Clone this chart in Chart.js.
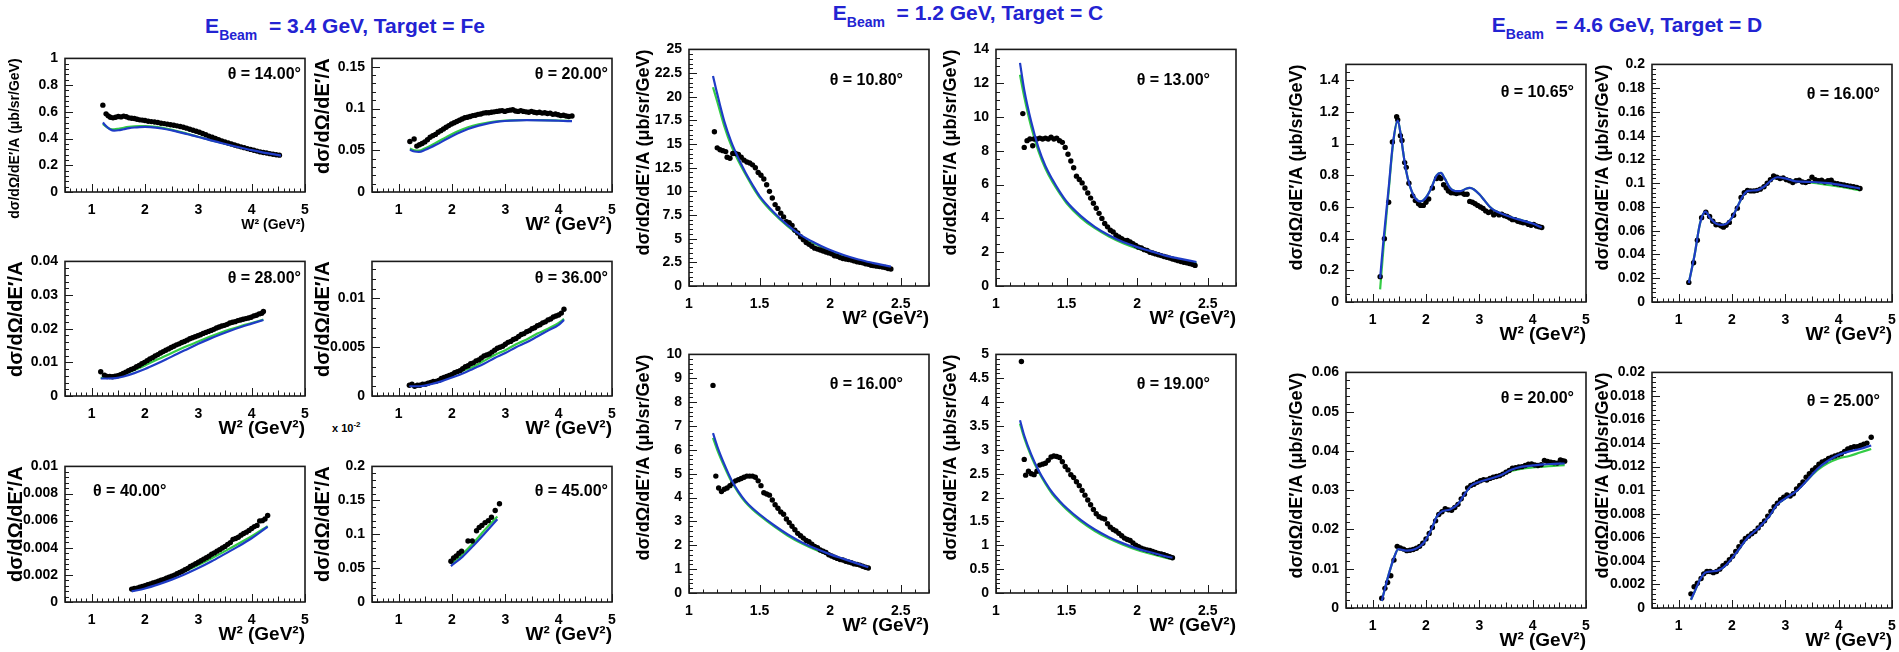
<!DOCTYPE html>
<html>
<head>
<meta charset="utf-8">
<script src="https://cdn.jsdelivr.net/npm/chart.js@4.4.1/dist/chart.umd.min.js"></script>
<style>
  html, body { margin: 0; padding: 0; background: #fff; }
  #page { position: relative; width: 1899px; height: 652px; overflow: hidden; background: #fff;
          font-family: 'Liberation Sans', Arial, Helvetica, sans-serif; }
  #page canvas { position: absolute; }
  .ptitle { position: absolute; color: #2323d2; font-weight: bold; font-size: 21px; line-height: 1;
            white-space: nowrap; transform: translate(-50%, -50%); }
  .ptitle sub { font-size: 14px; vertical-align: -7px; line-height: 0; }
  .angle { position: absolute; font-weight: bold; font-size: 16px; line-height: 1; white-space: nowrap; color: #000; }
  .expo { position: absolute; font-weight: bold; font-size: 11px; line-height: 1; white-space: nowrap; color: #000; }
  .expo sup { font-size: 8px; vertical-align: 5px; line-height: 0; }
</style>
</head>
<body>
<div id="page">
  <div class="ptitle" style="left:345px; top:25px;">E<sub>Beam</sub>&nbsp; = 3.4 GeV, Target = Fe</div>
  <div class="ptitle" style="left:968px; top:12px;">E<sub>Beam</sub>&nbsp; = 1.2 GeV, Target = C</div>
  <div class="ptitle" style="left:1627px; top:24px;">E<sub>Beam</sub>&nbsp; = 4.6 GeV, Target = D</div>
  <div class="expo" style="left:332px; top:423px;">x 10<sup>-2</sup></div>
</div>
<script>
// ---------------- Fe target, E = 3.4 GeV ----------------
const fe14Data = [[1.21,0.65],[1.27,0.585],[1.31,0.57],[1.35,0.56],[1.40,0.555],[1.45,0.56],[1.50,0.565],[1.55,0.562],[1.60,0.568],[1.65,0.563],[1.70,0.555],[1.75,0.552],[1.80,0.55],[1.85,0.545],[1.90,0.54],[1.95,0.538],[2.00,0.535],[2.06,0.53],[2.12,0.527],[2.18,0.524],[2.24,0.52],[2.30,0.515],[2.36,0.512],[2.42,0.508],[2.48,0.503],[2.54,0.5],[2.60,0.495],[2.66,0.49],[2.72,0.485],[2.78,0.478],[2.84,0.47],[2.90,0.462],[2.96,0.455],[3.02,0.447],[3.08,0.438],[3.14,0.428],[3.20,0.418],[3.26,0.41],[3.32,0.4],[3.38,0.392],[3.44,0.383],[3.50,0.375],[3.56,0.367],[3.62,0.36],[3.68,0.352],[3.74,0.345],[3.80,0.338],[3.86,0.332],[3.92,0.325],[3.98,0.319],[4.04,0.312],[4.10,0.306],[4.16,0.3],[4.22,0.296],[4.28,0.292],[4.34,0.287],[4.40,0.283],[4.46,0.279],[4.52,0.276]];
const fe14Blue = [[1.21,0.52],[1.28,0.49],[1.35,0.468],[1.42,0.46],[1.5,0.462],[1.6,0.47],[1.7,0.478],[1.8,0.483],[1.9,0.486],[2.0,0.487],[2.1,0.486],[2.2,0.482],[2.4,0.47],[2.6,0.452],[2.8,0.432],[3.0,0.412],[3.2,0.39],[3.4,0.37],[3.6,0.35],[3.8,0.331],[4.0,0.313],[4.2,0.297],[4.4,0.283],[4.55,0.272]];
const fe14Green = [[1.21,0.51],[1.28,0.486],[1.35,0.472],[1.42,0.469],[1.5,0.473],[1.6,0.481],[1.7,0.487],[1.8,0.491],[1.9,0.493],[2.0,0.493],[2.1,0.491],[2.2,0.487],[2.4,0.474],[2.6,0.456],[2.8,0.435],[3.0,0.414],[3.2,0.392],[3.4,0.372],[3.6,0.351],[3.8,0.332],[4.0,0.314],[4.2,0.298],[4.4,0.284],[4.55,0.274]];

const fe20Data = [[1.21,0.0605],[1.29,0.0635],[1.34,0.055],[1.39,0.0565],[1.44,0.058],[1.49,0.06],[1.54,0.0625],[1.59,0.0655],[1.64,0.0675],[1.69,0.069],[1.74,0.0715],[1.79,0.0735],[1.84,0.0755],[1.89,0.0775],[1.94,0.0795],[1.99,0.0815],[2.04,0.083],[2.09,0.0845],[2.14,0.086],[2.19,0.0875],[2.24,0.089],[2.29,0.0895],[2.34,0.0905],[2.39,0.0915],[2.44,0.092],[2.49,0.093],[2.54,0.0935],[2.59,0.0945],[2.64,0.095],[2.69,0.095],[2.74,0.0955],[2.79,0.096],[2.84,0.0965],[2.89,0.097],[2.94,0.0975],[2.99,0.0965],[3.04,0.0975],[3.09,0.098],[3.14,0.0985],[3.19,0.097],[3.24,0.0965],[3.29,0.0975],[3.34,0.0965],[3.39,0.096],[3.44,0.0955],[3.49,0.0965],[3.54,0.0955],[3.59,0.095],[3.64,0.0955],[3.69,0.0945],[3.74,0.095],[3.79,0.094],[3.84,0.0945],[3.89,0.093],[3.94,0.0935],[3.99,0.0925],[4.04,0.0915],[4.09,0.092],[4.14,0.091],[4.19,0.0905],[4.25,0.091]];
const fe20Blue = [[1.21,0.0505],[1.3,0.0485],[1.38,0.048],[1.5,0.0505],[1.7,0.0565],[1.9,0.0635],[2.1,0.07],[2.3,0.0755],[2.5,0.0795],[2.7,0.0825],[2.9,0.0845],[3.1,0.0855],[3.4,0.086],[3.7,0.0858],[4.0,0.0853],[4.25,0.0848]];
const fe20Green = [[1.21,0.052],[1.3,0.05],[1.38,0.0495],[1.5,0.0525],[1.7,0.059],[1.9,0.066],[2.1,0.0725],[2.3,0.0775],[2.5,0.081],[2.7,0.0835],[2.9,0.085],[3.1,0.0858],[3.4,0.0862],[3.7,0.086],[4.0,0.0856],[4.25,0.085]];

const fe28Data = [[1.17,0.0072],[1.24,0.0062],[1.29,0.0058],[1.34,0.0058],[1.39,0.0057],[1.44,0.0059],[1.49,0.006],[1.54,0.0063],[1.59,0.0067],[1.64,0.0071],[1.69,0.0075],[1.74,0.0079],[1.79,0.0082],[1.84,0.0087],[1.89,0.0091],[1.94,0.0096],[1.99,0.01],[2.04,0.0105],[2.09,0.011],[2.14,0.0114],[2.19,0.0119],[2.24,0.0123],[2.29,0.0128],[2.34,0.0132],[2.39,0.0136],[2.44,0.014],[2.49,0.0144],[2.54,0.0148],[2.59,0.0152],[2.64,0.0155],[2.69,0.0159],[2.74,0.0162],[2.79,0.0166],[2.84,0.017],[2.89,0.0173],[2.94,0.0176],[2.99,0.0179],[3.04,0.0182],[3.09,0.0186],[3.14,0.0189],[3.19,0.0192],[3.24,0.0195],[3.29,0.0198],[3.34,0.0202],[3.39,0.0205],[3.44,0.0208],[3.49,0.021],[3.54,0.0213],[3.59,0.0217],[3.64,0.0219],[3.69,0.0221],[3.74,0.0224],[3.79,0.0226],[3.84,0.0228],[3.89,0.023],[3.94,0.0232],[3.99,0.0234],[4.04,0.0238],[4.09,0.024],[4.14,0.0244],[4.19,0.0246],[4.22,0.0251]];
const fe28Blue = [[1.17,0.0052],[1.3,0.0052],[1.45,0.0053],[1.6,0.0058],[1.8,0.0068],[2.0,0.008],[2.2,0.0094],[2.4,0.0109],[2.6,0.0125],[2.8,0.014],[3.0,0.0155],[3.2,0.0169],[3.4,0.0182],[3.6,0.0194],[3.8,0.0205],[4.0,0.0215],[4.22,0.0226]];
const fe28Green = [[1.17,0.0054],[1.3,0.0054],[1.45,0.0057],[1.6,0.0064],[1.8,0.0077],[2.0,0.0091],[2.2,0.0106],[2.4,0.012],[2.6,0.0135],[2.8,0.0149],[3.0,0.0162],[3.2,0.0175],[3.4,0.0187],[3.6,0.0198],[3.8,0.0208],[4.0,0.0217],[4.22,0.0227]];

const fe36Data = [[1.2,0.0011],[1.25,0.0012],[1.3,0.001],[1.35,0.0011],[1.4,0.0011],[1.45,0.0012],[1.5,0.0012],[1.55,0.0013],[1.6,0.0014],[1.65,0.0015],[1.7,0.0015],[1.75,0.0016],[1.8,0.0018],[1.85,0.0019],[1.9,0.002],[1.95,0.0021],[2.0,0.0022],[2.05,0.0024],[2.1,0.0025],[2.15,0.0026],[2.2,0.0028],[2.25,0.003],[2.3,0.0031],[2.35,0.0033],[2.4,0.0034],[2.45,0.0036],[2.5,0.0037],[2.55,0.0039],[2.6,0.0041],[2.65,0.0042],[2.7,0.0043],[2.75,0.0045],[2.8,0.0047],[2.85,0.0049],[2.9,0.005],[2.95,0.0051],[3.0,0.0053],[3.05,0.0055],[3.1,0.0056],[3.15,0.0058],[3.2,0.0059],[3.25,0.0061],[3.3,0.0063],[3.35,0.0064],[3.4,0.0066],[3.45,0.0067],[3.5,0.0069],[3.55,0.007],[3.6,0.0072],[3.65,0.0073],[3.7,0.0075],[3.75,0.0076],[3.8,0.0078],[3.85,0.0079],[3.9,0.0081],[3.95,0.0082],[4.0,0.0083],[4.05,0.0085],[4.1,0.0089]];
const fe36Blue = [[1.2,0.001],[1.4,0.001],[1.6,0.0012],[1.8,0.0015],[2.0,0.0019],[2.2,0.0023],[2.4,0.0028],[2.6,0.0033],[2.8,0.0039],[3.0,0.0044],[3.2,0.005],[3.4,0.0055],[3.6,0.0061],[3.8,0.0067],[4.0,0.0073],[4.1,0.0078]];
const fe36Green = [[1.2,0.0011],[1.4,0.0011],[1.6,0.0013],[1.8,0.0017],[2.0,0.0021],[2.2,0.0026],[2.4,0.003],[2.6,0.0036],[2.8,0.0042],[3.0,0.0047],[3.2,0.0053],[3.4,0.0058],[3.6,0.0064],[3.8,0.0069],[4.0,0.0075],[4.1,0.0079]];

const fe40Data = [[1.75,0.00095],[1.8,0.001],[1.85,0.00102],[1.9,0.0011],[1.95,0.00115],[2.0,0.0012],[2.05,0.00127],[2.1,0.00133],[2.15,0.0014],[2.2,0.00146],[2.25,0.00153],[2.3,0.0016],[2.35,0.00167],[2.4,0.00175],[2.45,0.00183],[2.5,0.0019],[2.55,0.00198],[2.6,0.00208],[2.65,0.00217],[2.7,0.00227],[2.75,0.00238],[2.8,0.00248],[2.85,0.00262],[2.9,0.00272],[2.95,0.00283],[3.0,0.00293],[3.05,0.00304],[3.1,0.00316],[3.15,0.00327],[3.2,0.00338],[3.25,0.00352],[3.3,0.00362],[3.35,0.00375],[3.4,0.00386],[3.45,0.00398],[3.5,0.0041],[3.55,0.00425],[3.6,0.00438],[3.65,0.00462],[3.7,0.00468],[3.75,0.00478],[3.8,0.00493],[3.85,0.00505],[3.9,0.00515],[3.95,0.00528],[4.0,0.00542],[4.05,0.00556],[4.1,0.00565],[4.15,0.00598],[4.2,0.006],[4.25,0.00612],[4.3,0.00638]];
const fe40Blue = [[1.75,0.00078],[2.0,0.001],[2.25,0.0013],[2.5,0.00165],[2.75,0.00205],[3.0,0.0025],[3.25,0.003],[3.5,0.00355],[3.75,0.0041],[4.0,0.0047],[4.3,0.00555]];
const fe40Green = [[1.75,0.00085],[2.0,0.00112],[2.25,0.00145],[2.5,0.00183],[2.75,0.00226],[3.0,0.00272],[3.25,0.00322],[3.5,0.00375],[3.75,0.0043],[4.0,0.00485],[4.3,0.0056]];

// values of the 45 degree set are in units of 1e-2
const fe45Data = [[1.98,0.06],[2.03,0.065],[2.08,0.068],[2.13,0.072],[2.18,0.075],[2.3,0.09],[2.38,0.09],[2.46,0.105],[2.51,0.11],[2.56,0.113],[2.62,0.117],[2.68,0.12],[2.74,0.125],[2.81,0.135],[2.89,0.145]];
const fe45Blue = [[1.98,0.053],[2.2,0.067],[2.4,0.083],[2.6,0.1],[2.85,0.122]];
const fe45Green = [[1.98,0.056],[2.2,0.071],[2.4,0.087],[2.6,0.105],[2.85,0.126]];

// ---------------- C target, E = 1.2 GeV ----------------
const c108Data = [[1.18,16.3],[1.2,14.6],[1.22,14.4],[1.24,14.3],[1.26,14.2],[1.27,13.6],[1.29,13.5],[1.31,14.0],[1.33,14.0],[1.35,13.9],[1.37,13.6],[1.39,13.3],[1.41,13.1],[1.43,13.0],[1.45,12.8],[1.47,12.5],[1.49,12.0],[1.51,11.7],[1.53,11.3],[1.55,10.7],[1.57,10.0],[1.59,9.3],[1.61,8.6],[1.63,8.2],[1.65,7.7],[1.67,7.3],[1.69,6.8],[1.71,6.7],[1.73,6.4],[1.75,5.9],[1.77,5.6],[1.79,5.2],[1.81,4.9],[1.83,4.6],[1.85,4.4],[1.87,4.2],[1.89,4.0],[1.91,3.9],[1.93,3.8],[1.95,3.7],[1.97,3.6],[1.99,3.5],[2.01,3.4],[2.03,3.2],[2.05,3.15],[2.07,3.0],[2.09,2.9],[2.11,2.85],[2.13,2.8],[2.15,2.75],[2.17,2.65],[2.19,2.55],[2.21,2.5],[2.23,2.45],[2.25,2.35],[2.27,2.3],[2.29,2.2],[2.31,2.15],[2.33,2.1],[2.35,2.05],[2.37,2.0],[2.39,1.95],[2.41,1.85],[2.43,1.8]];
const c108Blue = [[1.17,22.2],[1.2,20.3],[1.25,17.4],[1.3,15.2],[1.35,13.5],[1.4,12.0],[1.45,10.7],[1.5,9.5],[1.6,7.8],[1.7,6.4],[1.8,5.3],[1.9,4.5],[2.0,3.8],[2.1,3.25],[2.2,2.8],[2.3,2.45],[2.43,2.05]];
const c108Green = [[1.17,21.0],[1.2,19.5],[1.25,16.9],[1.3,14.8],[1.35,13.2],[1.4,11.8],[1.45,10.5],[1.5,9.35],[1.6,7.65],[1.7,6.3],[1.8,5.2],[1.9,4.4],[2.0,3.7],[2.1,3.15],[2.2,2.7],[2.3,2.35],[2.43,1.95]];

const c13Data = [[1.19,10.2],[1.2,8.2],[1.22,8.6],[1.24,8.7],[1.26,8.3],[1.27,8.7],[1.29,8.7],[1.31,8.75],[1.33,8.7],[1.35,8.75],[1.37,8.7],[1.39,8.8],[1.41,8.7],[1.43,8.75],[1.45,8.6],[1.47,8.5],[1.49,8.2],[1.51,7.8],[1.53,7.4],[1.55,7.0],[1.57,6.5],[1.59,6.3],[1.61,6.1],[1.63,5.8],[1.65,5.5],[1.67,5.2],[1.69,4.9],[1.71,4.6],[1.73,4.3],[1.75,4.0],[1.77,3.7],[1.79,3.5],[1.81,3.3],[1.83,3.2],[1.85,3.0],[1.87,2.9],[1.89,2.8],[1.91,2.7],[1.93,2.7],[1.95,2.6],[1.97,2.5],[1.99,2.4],[2.01,2.3],[2.03,2.25],[2.05,2.15],[2.07,2.1],[2.09,2.0],[2.11,1.95],[2.13,1.9],[2.15,1.85],[2.17,1.8],[2.19,1.75],[2.21,1.7],[2.23,1.65],[2.25,1.6],[2.27,1.55],[2.29,1.5],[2.31,1.45],[2.33,1.4],[2.35,1.38],[2.37,1.33],[2.39,1.28],[2.41,1.22]];
const c13Blue = [[1.17,13.2],[1.2,11.6],[1.25,9.7],[1.3,8.2],[1.35,7.1],[1.4,6.3],[1.45,5.6],[1.5,5.0],[1.6,4.15],[1.7,3.5],[1.8,3.0],[1.9,2.6],[2.0,2.3],[2.1,2.05],[2.2,1.8],[2.3,1.62],[2.42,1.42]];
const c13Green = [[1.17,12.5],[1.2,11.2],[1.25,9.4],[1.3,8.0],[1.35,6.95],[1.4,6.15],[1.45,5.5],[1.5,4.9],[1.6,4.05],[1.7,3.42],[1.8,2.93],[1.9,2.53],[2.0,2.22],[2.1,1.97],[2.2,1.75],[2.3,1.56],[2.42,1.36]];

const c16Data = [[1.17,8.7],[1.19,4.9],[1.21,4.4],[1.23,4.25],[1.25,4.35],[1.27,4.4],[1.29,4.5],[1.31,4.6],[1.33,4.7],[1.35,4.75],[1.37,4.8],[1.39,4.85],[1.41,4.9],[1.43,4.9],[1.45,4.9],[1.47,4.85],[1.49,4.7],[1.51,4.5],[1.53,4.2],[1.55,4.15],[1.57,4.1],[1.59,3.9],[1.61,3.7],[1.63,3.55],[1.65,3.4],[1.67,3.3],[1.69,3.1],[1.71,2.95],[1.73,2.8],[1.75,2.65],[1.77,2.5],[1.79,2.4],[1.81,2.3],[1.83,2.2],[1.85,2.15],[1.87,2.05],[1.89,1.95],[1.91,1.9],[1.93,1.8],[1.95,1.75],[1.97,1.7],[1.99,1.6],[2.01,1.55],[2.03,1.5],[2.05,1.45],[2.07,1.4],[2.09,1.38],[2.11,1.33],[2.13,1.3],[2.15,1.27],[2.17,1.22],[2.19,1.2],[2.21,1.17],[2.23,1.12],[2.25,1.08],[2.27,1.05]];
const c16Blue = [[1.17,6.7],[1.2,6.15],[1.25,5.4],[1.3,4.75],[1.35,4.25],[1.4,3.85],[1.45,3.55],[1.5,3.3],[1.6,2.85],[1.7,2.45],[1.8,2.12],[1.9,1.85],[2.0,1.62],[2.1,1.42],[2.2,1.22],[2.27,1.08]];
const c16Green = [[1.17,6.5],[1.2,6.0],[1.25,5.3],[1.3,4.68],[1.35,4.2],[1.4,3.8],[1.45,3.5],[1.5,3.25],[1.6,2.8],[1.7,2.4],[1.8,2.07],[1.9,1.8],[2.0,1.57],[2.1,1.37],[2.2,1.18],[2.27,1.03]];

const c19Data = [[1.18,4.85],[1.2,2.8],[1.21,2.47],[1.23,2.55],[1.25,2.5],[1.27,2.48],[1.29,2.55],[1.31,2.68],[1.33,2.7],[1.35,2.72],[1.37,2.78],[1.39,2.85],[1.41,2.87],[1.43,2.86],[1.45,2.84],[1.47,2.75],[1.49,2.65],[1.51,2.58],[1.53,2.48],[1.55,2.42],[1.57,2.33],[1.59,2.25],[1.61,2.15],[1.63,2.05],[1.65,1.95],[1.67,1.85],[1.69,1.75],[1.71,1.66],[1.73,1.6],[1.75,1.57],[1.77,1.55],[1.79,1.45],[1.81,1.38],[1.83,1.33],[1.85,1.3],[1.87,1.25],[1.89,1.2],[1.91,1.15],[1.93,1.12],[1.95,1.1],[1.97,1.05],[1.99,1.0],[2.01,0.97],[2.03,0.94],[2.05,0.92],[2.07,0.9],[2.09,0.89],[2.11,0.87],[2.13,0.85],[2.15,0.83],[2.17,0.82],[2.19,0.8],[2.21,0.78],[2.23,0.76],[2.25,0.74]];
const c19Blue = [[1.17,3.62],[1.2,3.3],[1.25,2.9],[1.3,2.58],[1.35,2.32],[1.4,2.1],[1.45,1.93],[1.5,1.78],[1.6,1.53],[1.7,1.33],[1.8,1.17],[1.9,1.04],[2.0,0.93],[2.1,0.85],[2.2,0.77],[2.25,0.74]];
const c19Green = [[1.17,3.55],[1.2,3.25],[1.25,2.86],[1.3,2.55],[1.35,2.29],[1.4,2.07],[1.45,1.9],[1.5,1.75],[1.6,1.5],[1.7,1.3],[1.8,1.14],[1.9,1.01],[2.0,0.9],[2.1,0.82],[2.2,0.74],[2.25,0.71]];

// ---------------- D target, E = 4.6 GeV ----------------
const d1065Data = [[1.14,0.16],[1.22,0.4],[1.3,0.63],[1.37,1.01],[1.45,1.17],[1.47,1.15],[1.52,1.05],[1.55,1.02],[1.6,0.88],[1.63,0.85],[1.68,0.75],[1.75,0.67],[1.8,0.64],[1.86,0.62],[1.9,0.61],[1.95,0.61],[2.0,0.63],[2.05,0.65],[2.12,0.72],[2.2,0.78],[2.24,0.79],[2.28,0.78],[2.33,0.74],[2.38,0.72],[2.42,0.7],[2.47,0.69],[2.52,0.69],[2.57,0.685],[2.62,0.69],[2.67,0.69],[2.72,0.68],[2.77,0.68],[2.82,0.635],[2.87,0.63],[2.92,0.62],[2.97,0.61],[3.02,0.6],[3.07,0.59],[3.12,0.575],[3.17,0.565],[3.22,0.57],[3.27,0.55],[3.32,0.56],[3.37,0.55],[3.42,0.555],[3.47,0.545],[3.52,0.54],[3.57,0.53],[3.62,0.52],[3.67,0.52],[3.72,0.51],[3.77,0.505],[3.82,0.5],[3.87,0.5],[3.92,0.49],[3.97,0.485],[4.02,0.49],[4.07,0.48],[4.12,0.475],[4.17,0.47]];
const d1065Blue = [[1.14,0.15],[1.2,0.38],[1.3,0.72],[1.38,1.0],[1.47,1.145],[1.52,1.07],[1.57,0.95],[1.62,0.84],[1.7,0.73],[1.8,0.655],[1.9,0.635],[2.0,0.66],[2.1,0.72],[2.2,0.8],[2.28,0.815],[2.35,0.78],[2.45,0.72],[2.55,0.7],[2.65,0.7],[2.75,0.715],[2.82,0.72],[2.9,0.71],[3.0,0.68],[3.1,0.64],[3.2,0.6],[3.3,0.575],[3.4,0.56],[3.6,0.535],[3.8,0.515],[4.0,0.495],[4.17,0.47]];
const d1065Green = [[1.14,0.08],[1.2,0.33],[1.3,0.7],[1.38,0.99],[1.47,1.145],[1.52,1.07],[1.57,0.95],[1.62,0.84],[1.7,0.73],[1.8,0.655],[1.9,0.635],[2.0,0.66],[2.1,0.72],[2.2,0.8],[2.28,0.815],[2.35,0.78],[2.45,0.72],[2.55,0.7],[2.65,0.7],[2.75,0.715],[2.82,0.72],[2.9,0.71],[3.0,0.68],[3.1,0.64],[3.2,0.6],[3.3,0.575],[3.4,0.56],[3.6,0.535],[3.8,0.515],[4.0,0.495],[4.17,0.47]];

const d16Data = [[1.19,0.0165],[1.28,0.033],[1.35,0.052],[1.43,0.071],[1.51,0.0755],[1.58,0.072],[1.64,0.068],[1.7,0.065],[1.76,0.065],[1.8,0.064],[1.84,0.063],[1.89,0.0645],[1.95,0.067],[2.03,0.073],[2.1,0.079],[2.17,0.088],[2.23,0.092],[2.29,0.094],[2.35,0.0935],[2.41,0.0935],[2.47,0.094],[2.53,0.095],[2.6,0.097],[2.66,0.1],[2.72,0.103],[2.78,0.106],[2.84,0.105],[2.9,0.104],[2.96,0.1045],[3.02,0.103],[3.08,0.102],[3.14,0.1005],[3.2,0.102],[3.26,0.1025],[3.32,0.101],[3.38,0.1005],[3.44,0.1015],[3.5,0.105],[3.56,0.103],[3.62,0.102],[3.68,0.1025],[3.74,0.101],[3.8,0.102],[3.86,0.1025],[3.92,0.1],[3.98,0.0995],[4.04,0.099],[4.1,0.0985],[4.16,0.098],[4.22,0.0975],[4.28,0.097],[4.34,0.0965],[4.4,0.0955]];
const d16Blue = [[1.19,0.016],[1.3,0.04],[1.4,0.066],[1.5,0.076],[1.6,0.07],[1.7,0.066],[1.8,0.065],[1.9,0.066],[2.0,0.071],[2.1,0.08],[2.2,0.089],[2.3,0.0935],[2.45,0.094],[2.6,0.097],[2.75,0.103],[2.85,0.105],[3.0,0.104],[3.2,0.1015],[3.5,0.101],[3.8,0.1],[4.1,0.098],[4.4,0.0955]];
const d16Green = [[1.19,0.016],[1.3,0.04],[1.4,0.066],[1.5,0.076],[1.6,0.07],[1.7,0.066],[1.8,0.065],[1.9,0.066],[2.0,0.071],[2.1,0.08],[2.2,0.089],[2.3,0.0935],[2.45,0.094],[2.6,0.097],[2.75,0.103],[2.85,0.105],[3.0,0.104],[3.2,0.1015],[3.5,0.1005],[3.8,0.0985],[4.1,0.0965],[4.4,0.094]];

const d20Data = [[1.17,0.0025],[1.23,0.005],[1.28,0.0065],[1.34,0.0082],[1.4,0.0122],[1.46,0.0157],[1.52,0.0153],[1.58,0.015],[1.64,0.0146],[1.7,0.0147],[1.76,0.0149],[1.82,0.0152],[1.88,0.0157],[1.94,0.0165],[2.0,0.0176],[2.06,0.019],[2.12,0.0205],[2.18,0.0222],[2.24,0.0238],[2.3,0.0245],[2.36,0.0253],[2.42,0.025],[2.48,0.0249],[2.54,0.0256],[2.6,0.0264],[2.66,0.0278],[2.72,0.029],[2.78,0.0306],[2.84,0.0312],[2.9,0.0315],[2.96,0.032],[3.02,0.0324],[3.08,0.0327],[3.14,0.0326],[3.2,0.033],[3.26,0.0333],[3.32,0.0335],[3.38,0.0337],[3.44,0.0341],[3.5,0.0346],[3.56,0.035],[3.62,0.0356],[3.68,0.0357],[3.74,0.0359],[3.8,0.036],[3.86,0.0363],[3.92,0.0366],[3.98,0.0367],[4.04,0.0364],[4.1,0.0363],[4.16,0.0365],[4.22,0.0376],[4.28,0.0373],[4.34,0.0371],[4.4,0.037],[4.46,0.0369],[4.52,0.0377],[4.56,0.0375],[4.6,0.0374]];
const d20Blue = [[1.17,0.0018],[1.3,0.0085],[1.4,0.0128],[1.48,0.015],[1.55,0.0148],[1.65,0.0146],[1.8,0.015],[1.95,0.0165],[2.1,0.02],[2.2,0.0232],[2.3,0.0246],[2.45,0.0251],[2.6,0.0265],[2.75,0.0295],[2.85,0.0312],[3.0,0.0321],[3.2,0.0329],[3.4,0.0338],[3.6,0.0352],[3.8,0.036],[4.0,0.0363],[4.2,0.0366],[4.4,0.0367],[4.6,0.0368]];
const d20Green = [[1.17,0.0018],[1.3,0.0085],[1.4,0.0128],[1.48,0.015],[1.55,0.0148],[1.65,0.0146],[1.8,0.015],[1.95,0.0165],[2.1,0.02],[2.2,0.0232],[2.3,0.0246],[2.45,0.0251],[2.6,0.0265],[2.75,0.0295],[2.85,0.0312],[3.0,0.0321],[3.2,0.0329],[3.4,0.0337],[3.6,0.0349],[3.8,0.0355],[4.0,0.0358],[4.2,0.036],[4.4,0.0362],[4.6,0.0364]];

const d25Data = [[1.23,0.0012],[1.29,0.0018],[1.35,0.0021],[1.42,0.0025],[1.47,0.0029],[1.53,0.0031],[1.59,0.0031],[1.65,0.003],[1.71,0.0031],[1.77,0.0033],[1.83,0.0036],[1.89,0.0038],[1.95,0.0041],[2.01,0.0044],[2.07,0.0048],[2.13,0.0052],[2.19,0.0056],[2.25,0.0059],[2.31,0.0061],[2.37,0.0063],[2.43,0.0065],[2.49,0.0068],[2.55,0.0071],[2.61,0.0074],[2.67,0.0078],[2.73,0.0082],[2.79,0.0086],[2.85,0.0089],[2.91,0.0092],[2.97,0.0094],[3.03,0.0096],[3.09,0.0095],[3.15,0.0097],[3.21,0.0101],[3.27,0.0104],[3.33,0.0107],[3.39,0.0111],[3.45,0.0114],[3.51,0.0117],[3.57,0.0119],[3.63,0.0122],[3.69,0.0124],[3.75,0.0125],[3.81,0.0127],[3.87,0.0128],[3.93,0.0129],[3.99,0.013],[4.05,0.0131],[4.11,0.0133],[4.17,0.0135],[4.23,0.0136],[4.29,0.0137],[4.35,0.0137],[4.41,0.0138],[4.47,0.0139],[4.53,0.014],[4.61,0.0145]];
const d25Blue = [[1.23,0.0007],[1.3,0.0014],[1.4,0.0024],[1.5,0.003],[1.6,0.0031],[1.75,0.0032],[1.9,0.0037],[2.1,0.0048],[2.3,0.006],[2.5,0.0068],[2.7,0.0078],[2.85,0.0088],[3.0,0.0093],[3.2,0.0099],[3.4,0.0108],[3.6,0.0118],[3.8,0.0125],[4.0,0.013],[4.2,0.0133],[4.4,0.0135],[4.61,0.0138]];
const d25Green = [[1.23,0.0007],[1.3,0.0014],[1.4,0.0024],[1.5,0.003],[1.6,0.0031],[1.75,0.0032],[1.9,0.0037],[2.1,0.0048],[2.3,0.006],[2.5,0.0068],[2.7,0.0078],[2.85,0.0088],[3.0,0.0093],[3.2,0.0099],[3.4,0.0108],[3.6,0.0117],[3.8,0.0123],[4.0,0.0127],[4.2,0.0129],[4.4,0.0132],[4.61,0.0135]];

// ---------------- tick labels ----------------
const ticksW2 = [1, 2, 3, 4, 5];
const ticksW2Low = [1, 1.5, 2, 2.5];
const ticksFe14 = [0, 0.2, 0.4, 0.6, 0.8, 1];
const ticksFe20 = [0, 0.05, 0.1, 0.15];
const ticksFe28 = [0, 0.01, 0.02, 0.03, 0.04];
const ticksFe36 = [0, 0.005, 0.01];
const ticksFe40 = [0, 0.002, 0.004, 0.006, 0.008, 0.01];
const ticksFe45 = [0, 0.05, 0.1, 0.15, 0.2];
const ticksC108 = [0, 2.5, 5, 7.5, 10, 12.5, 15, 17.5, 20, 22.5, 25];
const ticksC13 = [0, 2, 4, 6, 8, 10, 12, 14];
const ticksC16 = [0, 1, 2, 3, 4, 5, 6, 7, 8, 9, 10];
const ticksC19 = [0, 0.5, 1, 1.5, 2, 2.5, 3, 3.5, 4, 4.5, 5];
const ticksD1065 = [0, 0.2, 0.4, 0.6, 0.8, 1, 1.2, 1.4];
const ticksD16 = [0, 0.02, 0.04, 0.06, 0.08, 0.1, 0.12, 0.14, 0.16, 0.18, 0.2];
const ticksD20 = [0, 0.01, 0.02, 0.03, 0.04, 0.05, 0.06];
const ticksD25 = [0, 0.002, 0.004, 0.006, 0.008, 0.01, 0.012, 0.014, 0.016, 0.018, 0.02];

const titleLong = 'dσ/dΩ/dE′/A (μb/sr/GeV)';
const titleShort = 'dσ/dΩ/dE′/A';
const titleX = 'W² (GeV²)';

// ---------------- panel layout ----------------
const FE = {x: [0.5, 5], xt: ticksW2, xMid: 0.5, xMinor: 0.1};
const CC = {x: [1, 2.7], xt: ticksW2Low, xMid: null, xMinor: 0.1};
const DD = {x: [0.5, 5], xt: ticksW2, xMid: 0.5, xMinor: 0.1};

const plots = [
  {ax: FE, box: [65, 57, 240, 135], y: [0, 1], yt: ticksFe14, yMinor: 0.04, data: fe14Data, blue: fe14Blue, green: fe14Green,
   yTitle: titleLong, yts: 14, yOff: 50, xts: 14, angle: 'θ = 14.00°', aSide: 'r', aGap: 4, aDy: 17},
  {ax: FE, box: [372, 57, 240, 135], y: [0, 0.16], yt: ticksFe20, yMinor: 0.01, data: fe20Data, blue: fe20Blue, green: fe20Green,
   yTitle: titleShort, yts: 20, yOff: 49, xts: 19, angle: 'θ = 20.00°', aSide: 'r', aGap: 4, aDy: 17},
  {ax: FE, box: [65, 260, 240, 136], y: [0, 0.04], yt: ticksFe28, yMinor: 0.002, data: fe28Data, blue: fe28Blue, green: fe28Green,
   yTitle: titleShort, yts: 20, yOff: 49, xts: 19, angle: 'θ = 28.00°', aSide: 'r', aGap: 4, aDy: 18},
  {ax: FE, box: [372, 260, 240, 136], y: [0, 0.0138], yt: ticksFe36, yMinor: 0.001, data: fe36Data, blue: fe36Blue, green: fe36Green,
   yTitle: titleShort, yts: 20, yOff: 49, xts: 19, angle: 'θ = 36.00°', aSide: 'r', aGap: 4, aDy: 18},
  {ax: FE, box: [65, 465, 240, 137], y: [0, 0.01], yt: ticksFe40, yMinor: 0.0004, data: fe40Data, blue: fe40Blue, green: fe40Green,
   yTitle: titleShort, yts: 20, yOff: 49, xts: 19, angle: 'θ = 40.00°', aSide: 'l', aGap: 28, aDy: 26},
  {ax: FE, box: [372, 465, 240, 137], y: [0, 0.2], yt: ticksFe45, yMinor: 0.01, data: fe45Data, blue: fe45Blue, green: fe45Green,
   yTitle: titleShort, yts: 20, yOff: 49, xts: 19, angle: 'θ = 45.00°', aSide: 'r', aGap: 4, aDy: 26},

  {ax: CC, box: [689, 48, 240, 238], y: [0, 25], yt: ticksC108, yMinor: 0.5, data: c108Data, blue: c108Blue, green: c108Green,
   yTitle: titleLong, yts: 18, yOff: 45, xts: 19, angle: 'θ = 10.80°', aSide: 'r', aGap: 26, aDy: 32},
  {ax: CC, box: [996, 48, 240, 238], y: [0, 14], yt: ticksC13, yMinor: 0.5, data: c13Data, blue: c13Blue, green: c13Green,
   yTitle: titleLong, yts: 18, yOff: 45, xts: 19, angle: 'θ = 13.00°', aSide: 'r', aGap: 26, aDy: 32},
  {ax: CC, box: [689, 353, 240, 240], y: [0, 10], yt: ticksC16, yMinor: 0.2, data: c16Data, blue: c16Blue, green: c16Green,
   yTitle: titleLong, yts: 18, yOff: 45, xts: 19, angle: 'θ = 16.00°', aSide: 'r', aGap: 26, aDy: 31},
  {ax: CC, box: [996, 353, 240, 240], y: [0, 5], yt: ticksC19, yMinor: 0.1, data: c19Data, blue: c19Blue, green: c19Green,
   yTitle: titleLong, yts: 18, yOff: 45, xts: 19, angle: 'θ = 19.00°', aSide: 'r', aGap: 26, aDy: 31},

  {ax: DD, box: [1346, 63, 240, 239], y: [0, 1.5], yt: ticksD1065, yMinor: 0.05, data: d1065Data, blue: d1065Blue, green: d1065Green,
   yTitle: titleLong, yts: 18, yOff: 49, xts: 19, angle: 'θ = 10.65°', aSide: 'r', aGap: 12, aDy: 29},
  {ax: DD, box: [1652, 63, 240, 239], y: [0, 0.2], yt: ticksD16, yMinor: 0.004, data: d16Data, blue: d16Blue, green: d16Green,
   yTitle: titleLong, yts: 18, yOff: 49, xts: 19, angle: 'θ = 16.00°', aSide: 'r', aGap: 12, aDy: 31},
  {ax: DD, box: [1346, 371, 240, 237], y: [0, 0.06], yt: ticksD20, yMinor: 0.002, data: d20Data, blue: d20Blue, green: d20Green,
   yTitle: titleLong, yts: 18, yOff: 49, xts: 19, angle: 'θ = 20.00°', aSide: 'r', aGap: 12, aDy: 27},
  {ax: DD, box: [1652, 371, 240, 237], y: [0, 0.02], yt: ticksD25, yMinor: 0.0004, data: d25Data, blue: d25Blue, green: d25Green,
   yTitle: titleLong, yts: 18, yOff: 49, xts: 19, angle: 'θ = 25.00°', aSide: 'r', aGap: 12, aDy: 30}
];

const FONT = "'Liberation Sans', Arial, Helvetica, sans-serif";
const Y_AXIS_W = 70, X_AXIS_H = 50, PAD_T = 14, PAD_R = 14;

// frame box and inward-pointing ticks on the left and bottom axes
const rootFrame = {
  id: 'rootFrame',
  afterDraw(chart, args, o) {
    const {ctx, chartArea: a, scales: {x, y}} = chart;
    ctx.save();
    ctx.strokeStyle = '#1a1a1a';
    ctx.lineWidth = 1;
    const steps = (scale, step) => {
      const out = [];
      if (!step) return out;
      const k0 = Math.ceil(scale.min / step - 1e-6), k1 = Math.floor(scale.max / step + 1e-6);
      for (let k = k0; k <= k1; k++) out.push(k * step);
      return out;
    };
    const xMarks = [[steps(x, o.xMinor), 3.5], [steps(x, o.xMid), 5.5], [o.xMajor, 8]];
    const yMarks = [[steps(y, o.yMinor), 4], [o.yMajor, 8]];
    ctx.beginPath();
    xMarks.forEach(([vals, len]) => vals.forEach(v => {
      const px = Math.round(x.getPixelForValue(v)) + 0.5;
      ctx.moveTo(px, a.bottom); ctx.lineTo(px, a.bottom - len);
    }));
    yMarks.forEach(([vals, len]) => vals.forEach(v => {
      const py = Math.round(y.getPixelForValue(v)) + 0.5;
      ctx.moveTo(a.left, py); ctx.lineTo(a.left + len, py);
    }));
    ctx.stroke();
    ctx.lineWidth = 1.6;
    ctx.strokeRect(a.left, a.top, a.right - a.left, a.bottom - a.top);
    ctx.restore();
  }
};

const page = document.getElementById('page');
const toXY = arr => arr.map(p => ({x: p[0], y: p[1]}));

plots.forEach(p => {
  const [L, T, W, H] = p.box;
  const cv = document.createElement('canvas');
  const cw = Y_AXIS_W + W + PAD_R, ch = PAD_T + H + X_AXIS_H;
  cv.width = cw; cv.height = ch;
  cv.style.left = (L - Y_AXIS_W) + 'px';
  cv.style.top = (T - PAD_T) + 'px';
  cv.style.width = cw + 'px'; cv.style.height = ch + 'px';
  page.appendChild(cv);

  const yLh = p.yts * 1.2, xLh = p.xts * 1.2;
  new Chart(cv, {
    type: 'scatter',
    data: {
      datasets: [
        {data: toXY(p.green), showLine: true, pointRadius: 0, borderColor: '#33cc44', borderWidth: 2.2,
         cubicInterpolationMode: 'monotone', order: 3},
        {data: toXY(p.data), showLine: false, pointRadius: 2.7, pointBackgroundColor: '#000',
         pointBorderWidth: 0, order: 2},
        {data: toXY(p.blue), showLine: true, pointRadius: 0, borderColor: '#1f3cc6', borderWidth: 2.2,
         cubicInterpolationMode: 'monotone', order: 1}
      ]
    },
    options: {
      responsive: false, animation: false, events: [],
      devicePixelRatio: 1,
      layout: {padding: {left: 0, top: PAD_T, right: PAD_R, bottom: 0}},
      plugins: {
        legend: {display: false}, tooltip: {enabled: false},
        rootFrame: {xMajor: p.ax.xt, xMid: p.ax.xMid, xMinor: p.ax.xMinor, yMajor: p.yt, yMinor: p.yMinor}
      },
      scales: {
        x: {
          type: 'linear', position: 'bottom', min: p.ax.x[0], max: p.ax.x[1],
          afterBuildTicks: s => { s.ticks = p.ax.xt.map(v => ({value: v})); },
          afterFit: s => { s.height = X_AXIS_H; },
          grid: {display: false, drawTicks: false}, border: {display: false},
          ticks: {padding: 10, autoSkip: false, maxRotation: 0, color: '#000',
                  font: {family: FONT, size: 14, weight: 'bold'}, callback: v => String(v)},
          title: {display: true, text: titleX, align: 'end', color: '#000',
                  font: {family: FONT, size: p.xts, weight: 'bold'},
                  padding: {top: 0, bottom: X_AXIS_H - 33 - xLh / 2}}
        },
        y: {
          type: 'linear', position: 'left', min: p.y[0], max: p.y[1],
          afterBuildTicks: s => { s.ticks = p.yt.map(v => ({value: v})); },
          afterFit: s => { s.width = Y_AXIS_W; },
          grid: {display: false, drawTicks: false}, border: {display: false},
          ticks: {padding: 7, autoSkip: false, color: '#000',
                  font: {family: FONT, size: 14, weight: 'bold'}, callback: v => String(v)},
          title: {display: true, text: p.yTitle, align: 'end', color: '#000',
                  font: {family: FONT, size: p.yts, weight: 'bold'},
                  padding: {top: Y_AXIS_W - p.yOff - yLh / 2, bottom: 0}}
        }
      }
    },
    plugins: [rootFrame]
  });

  const lab = document.createElement('div');
  lab.className = 'angle';
  lab.textContent = p.angle;
  if (p.aSide === 'r') {
    lab.style.left = (L + W - p.aGap) + 'px';
    lab.style.transform = 'translate(-100%, -50%)';
  } else {
    lab.style.left = (L + p.aGap) + 'px';
    lab.style.transform = 'translate(0, -50%)';
  }
  lab.style.top = (T + p.aDy) + 'px';
  page.appendChild(lab);
});
</script>
</body>
</html>
